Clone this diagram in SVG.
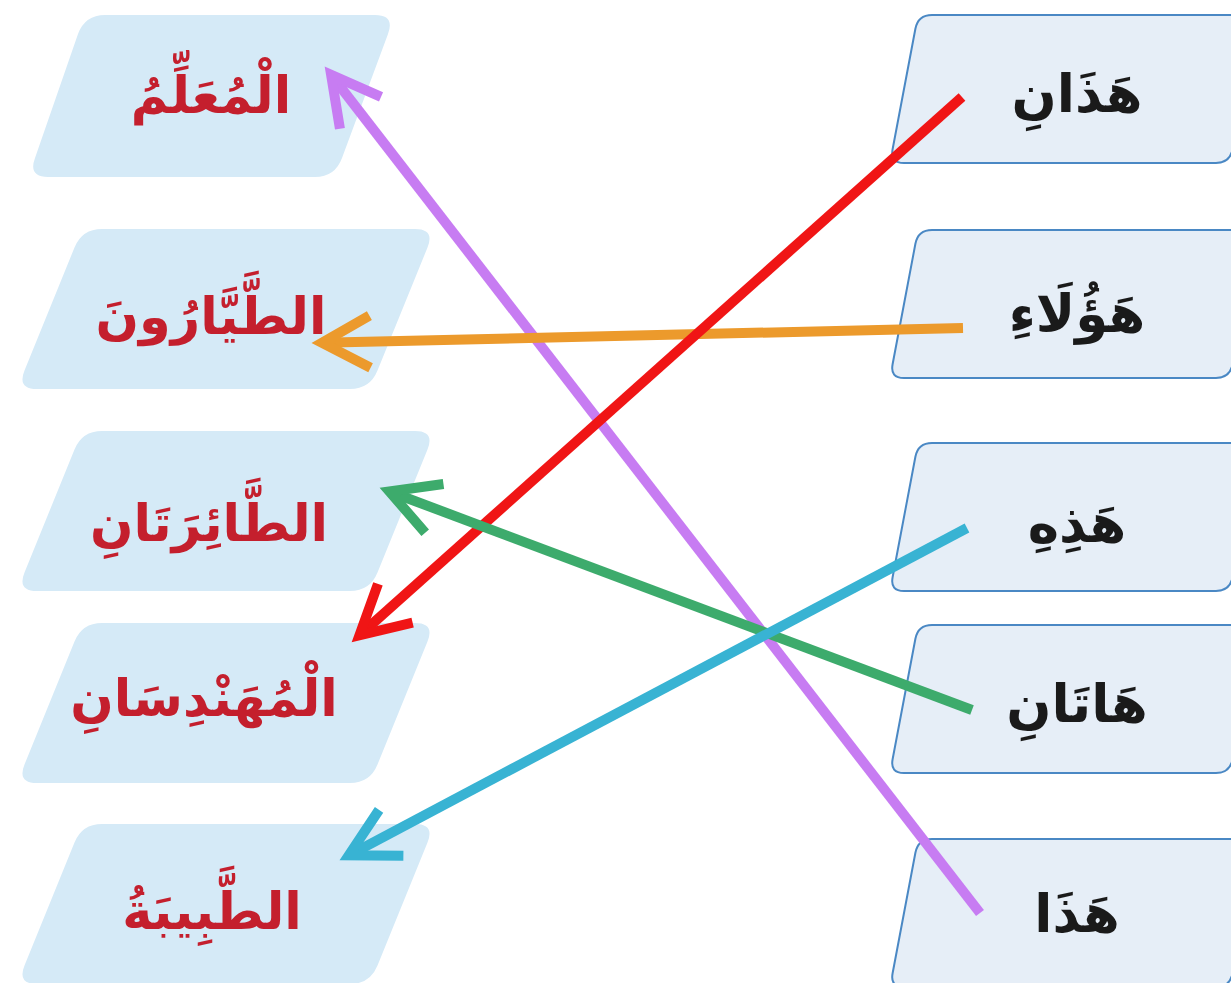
<svg xmlns="http://www.w3.org/2000/svg" width="1231" height="983" viewBox="0 0 1231 983">
<style>
.lbox{fill:#d5eaf7;}
.rbox{fill:#e6eef7;stroke:#4a88c4;stroke-width:2;}
.lt{font-family:"DejaVu Sans",sans-serif;font-weight:bold;font-size:51px;fill:#c41f2d;text-anchor:middle;}
.rt{font-family:"DejaVu Sans",sans-serif;font-weight:bold;font-size:53px;fill:#1a1a1a;text-anchor:middle;}
.c{fill:none;stroke-width:10;stroke-linecap:butt;}
</style>
<defs>
<path id="lshape" d="M102,0 L415,0 Q435,0 427.5,18.5 L377.5,141.5 Q370,160 350,160 L37,160 Q17,160 24.5,141.5 L74.5,18.5 Q82,0 102,0 Z"/>
<path id="rshape" d="M932,0 L1244,0 Q1258,0 1255.4,13.8 L1232.6,134.2 Q1230,148 1216,148 L904,148 Q890,148 892.6,134.2 L915.4,13.8 Q918,0 932,0 Z"/>
<marker id="ah-red" markerUnits="userSpaceOnUse" markerWidth="120" markerHeight="120" viewBox="-60 -60 120 120" refX="0" refY="0" orient="auto" overflow="visible"><path d="M-48,-26 L0,0 L-48,26" fill="none" stroke="#f01515" stroke-width="10"/></marker>
<marker id="ah-orange" markerUnits="userSpaceOnUse" markerWidth="120" markerHeight="120" viewBox="-60 -60 120 120" refX="0" refY="0" orient="auto" overflow="visible"><path d="M-48,-26 L0,0 L-48,26" fill="none" stroke="#ec9a2c" stroke-width="10"/></marker>
<marker id="ah-green" markerUnits="userSpaceOnUse" markerWidth="120" markerHeight="120" viewBox="-60 -60 120 120" refX="0" refY="0" orient="auto" overflow="visible"><path d="M-48,-26 L0,0 L-48,26" fill="none" stroke="#3dab6c" stroke-width="10"/></marker>
<marker id="ah-cyan" markerUnits="userSpaceOnUse" markerWidth="120" markerHeight="120" viewBox="-60 -60 120 120" refX="0" refY="0" orient="auto" overflow="visible"><path d="M-48,-26 L0,0 L-48,26" fill="none" stroke="#38b3d3" stroke-width="10"/></marker>
<marker id="ah-lav" markerUnits="userSpaceOnUse" markerWidth="120" markerHeight="120" viewBox="-60 -60 120 120" refX="0" refY="0" orient="auto" overflow="visible"><path d="M-48,-26 L0,0 L-48,26" fill="none" stroke="#c77cf2" stroke-width="10"/></marker>
</defs>
<rect width="1231" height="983" fill="#ffffff"/>
<g id="left-1"><path class="lbox" d="M105,15 L375,15 Q395,15 388,34 L342,158 Q335,177 315,177 L48,177 Q28,177 35,158 L78,34 Q85,15 105,15 Z"/><text class="lt" x="211" y="113" direction="rtl">الْمُعَلِّمُ</text></g>
<g id="left-2"><use href="#lshape" class="lbox" transform="translate(0,229)"/><text class="lt" x="211" y="334" direction="rtl">الطَّيَّارُونَ</text></g>
<g id="left-3"><use href="#lshape" class="lbox" transform="translate(0,431)"/><text class="lt" x="209" y="541" direction="rtl">الطَّائِرَتَانِ</text></g>
<g id="left-4"><use href="#lshape" class="lbox" transform="translate(0,623)"/><text class="lt" x="204" y="716" direction="rtl">الْمُهَنْدِسَانِ</text></g>
<g id="left-5"><use href="#lshape" class="lbox" transform="translate(0,824)"/><text class="lt" x="212" y="929" direction="rtl">الطَّبِيبَةُ</text></g>
<g id="right-1"><use href="#rshape" class="rbox" transform="translate(0,15)"/><text class="rt" x="1077" y="112" direction="rtl">هَذَانِ</text></g>
<g id="right-2"><use href="#rshape" class="rbox" transform="translate(0,230)"/><text class="rt" x="1077" y="332" direction="rtl">هَؤُلَاءِ</text></g>
<g id="right-3"><use href="#rshape" class="rbox" transform="translate(0,443)"/><text class="rt" x="1077" y="542" direction="rtl">هَذِهِ</text></g>
<g id="right-4"><use href="#rshape" class="rbox" transform="translate(0,625)"/><text class="rt" x="1077" y="722" direction="rtl">هَاتَانِ</text></g>
<g id="right-5"><use href="#rshape" class="rbox" transform="translate(0,839)"/><text class="rt" x="1077" y="932" direction="rtl">هَذَا</text></g>
<g id="connectors">
<line class="c" stroke="#c77cf2" x1="980" y1="913" x2="331.1" y2="74.9" marker-end="url(#ah-lav)"/>
<line class="c" stroke="#ec9a2c" x1="963" y1="328" x2="322" y2="342.8" marker-end="url(#ah-orange)"/>
<line class="c" stroke="#f01515" x1="962" y1="97" x2="359.5" y2="635.3" marker-end="url(#ah-red)"/>
<line class="c" stroke="#3dab6c" x1="972" y1="710" x2="389.4" y2="491.5" marker-end="url(#ah-green)"/>
<line class="c" stroke="#38b3d3" x1="967" y1="528" x2="348.8" y2="855.3" marker-end="url(#ah-cyan)"/>
</g>
</svg>
